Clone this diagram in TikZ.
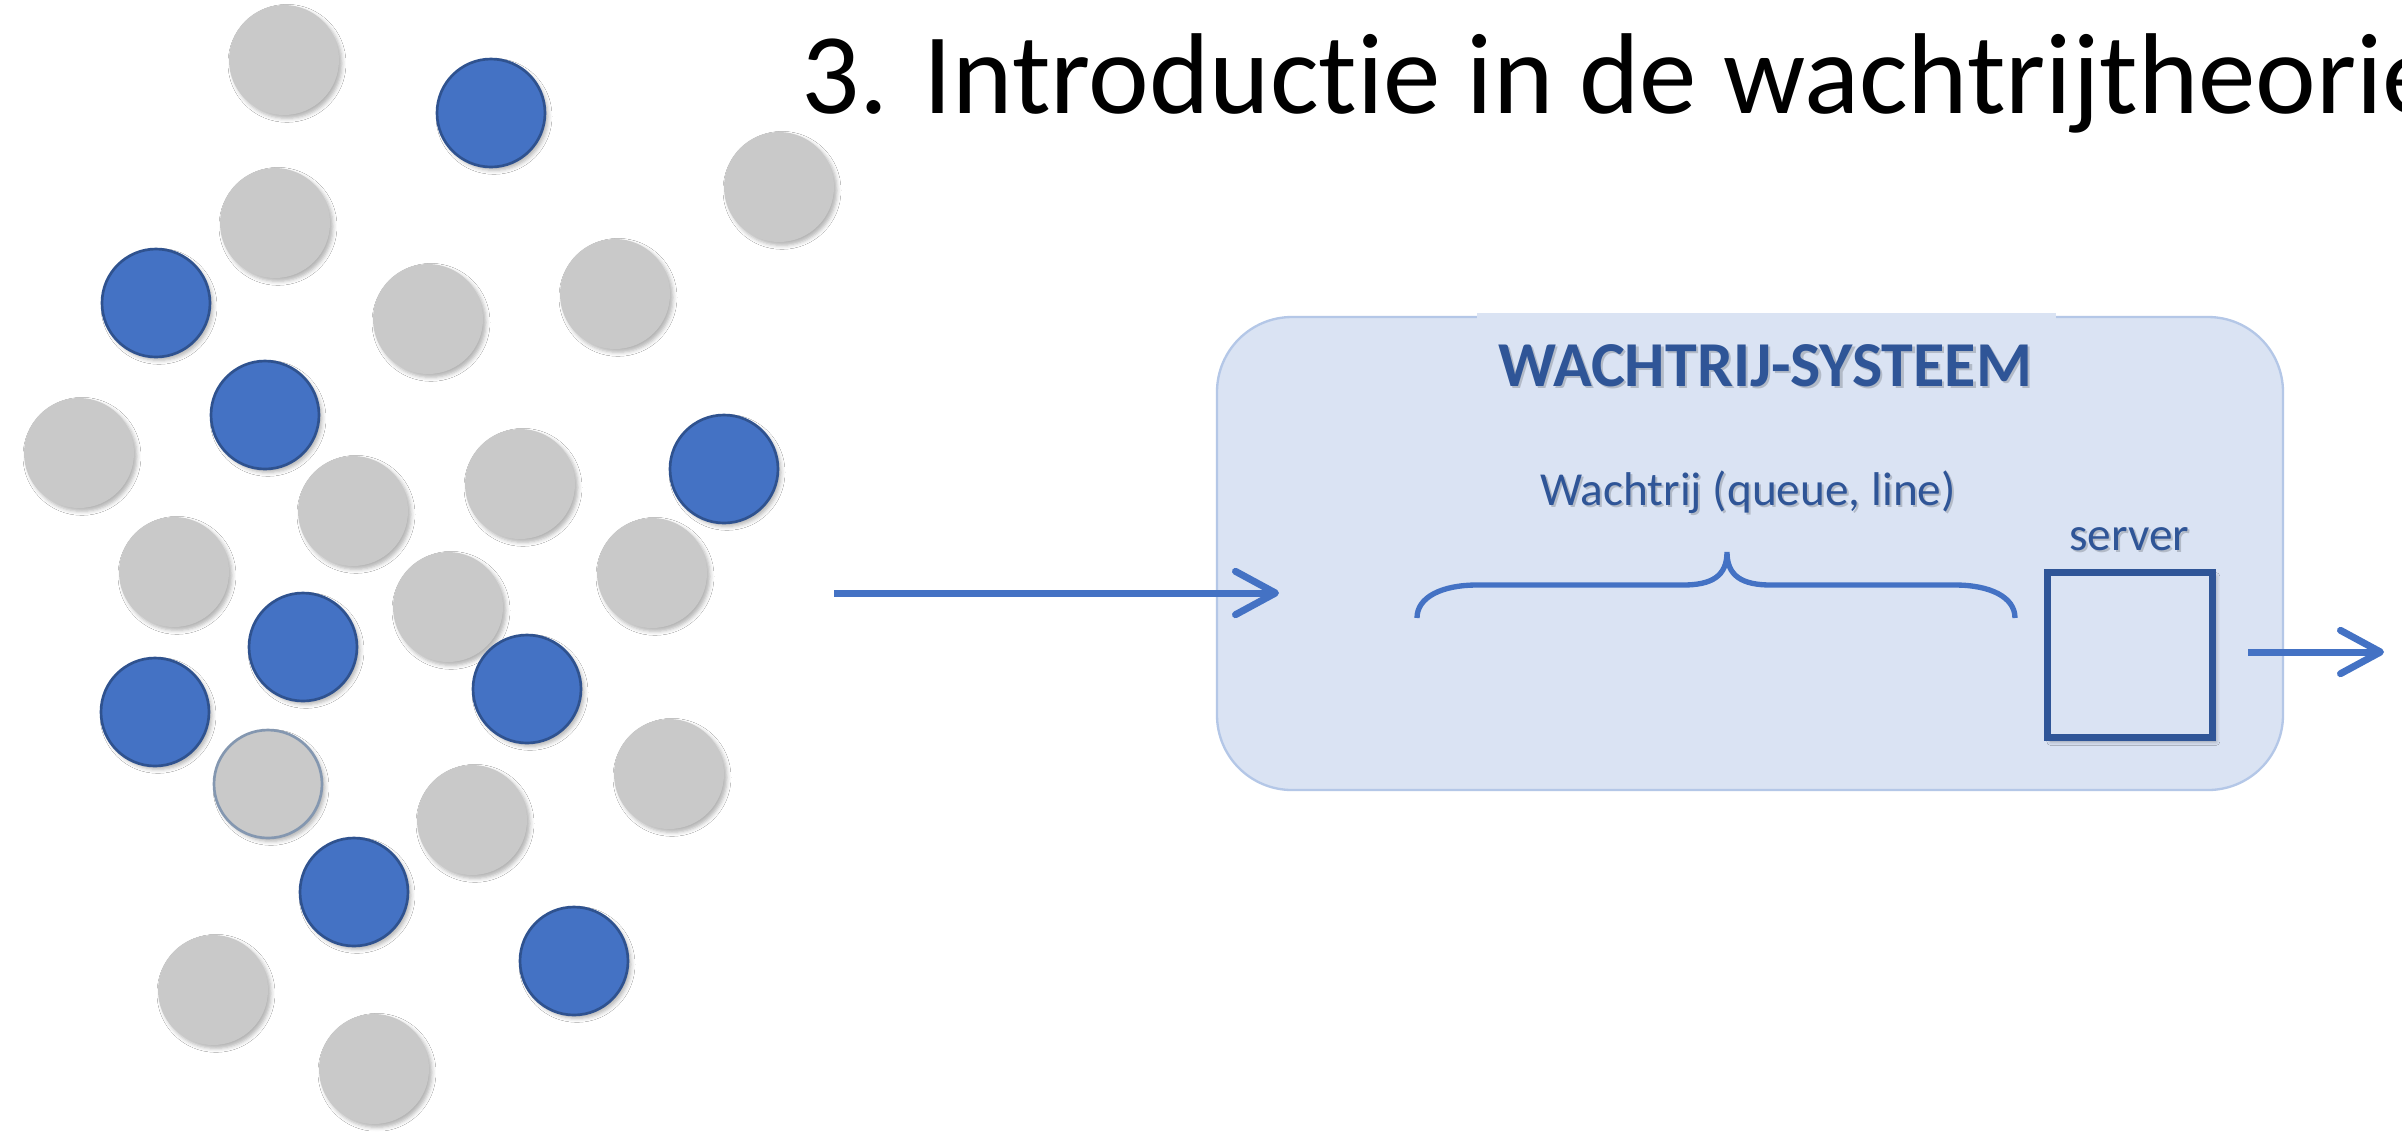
\documentclass[tikz,border=0pt]{standalone}
\usepackage{fontspec}
\setmainfont{Carlito}[Ligatures={NoCommon,NoRequired,NoContextual}]
\usetikzlibrary{arrows.meta,shadows.blur}
\definecolor{cblue}{HTML}{4472C4}
\definecolor{cblueline}{HTML}{2F528F}
\definecolor{cgray}{HTML}{C9C9C9}
\definecolor{cring}{HTML}{8497B0}
\definecolor{cfill}{HTML}{DAE3F3}
\definecolor{cborder}{HTML}{B4C7E7}
\definecolor{cdark}{HTML}{2F5597}
\begin{document}
\begin{tikzpicture}[x=0.3pt,y=-0.3pt,
  dot/.style={circle, minimum size=33pt, inner sep=0pt,
    blur shadow={shadow xshift=0.9pt, shadow yshift=-1.0pt, shadow blur radius=1.2pt, shadow opacity=30}},
  graydot/.style={dot, fill=cgray},
  bluedot/.style={dot, fill=cblue, draw=cblueline, line width=0.8pt, minimum size=32.4pt},
  grayring/.style={dot, fill=cgray, draw=cring, line width=0.8pt, minimum size=32.4pt},
  sysbox/.style={rectangle, rounded corners=22.5pt, fill=cfill, draw=cborder, line width=0.7pt,
    minimum width=319.8pt, minimum height=141.9pt, inner sep=0pt},
  srvbox/.style={rectangle, fill=cfill, draw=cdark, line width=2.1pt, minimum width=49.5pt,
    minimum height=49.5pt, inner sep=0pt,
    blur shadow={shadow xshift=1.0pt, shadow yshift=-1.2pt, shadow blur radius=1.2pt, shadow opacity=35}},
  flow/.style={draw=cblue, line width=2.1pt, -{Straight Barb[length=12pt,width=13pt,round]}},
  brace/.style={draw=cblue, line width=1.6pt},
  lbl/.style={anchor=base, inner sep=0pt, text=cdark},
  lblshadow/.style={anchor=base, inner sep=0pt, text=black, opacity=0.18}
]
\path[use as bounding box] (0,0) rectangle (2402,1131);
\clip (0,0) rectangle (2402,1131);
\fill[white] (0,0) rectangle (2402,1131);

% title
\node[anchor=base west, inner sep=0pt, font=\fontsize{34.5pt}{40pt}\selectfont] (title) at (801,113) {3. Introductie in de wachtrijtheorie};

% gray circles
\node[graydot] (g1) at (284,60) {};
\node[graydot] (g2) at (779,187) {};
\node[graydot] (g3) at (275,223) {};
\node[graydot] (g4) at (428,319) {};
\node[graydot] (g5) at (615,294) {};
\node[graydot] (g6) at (79,453) {};
\node[graydot] (g7) at (353,511) {};
\node[graydot] (g8) at (520,484) {};
\node[graydot] (g9) at (174,572) {};
\node[graydot] (g10) at (448,607) {};
\node[graydot] (g11) at (652,573) {};
\node[graydot] (g12) at (669,774) {};
\node[graydot] (g13) at (472,820) {};
\node[graydot] (g14) at (213,990) {};
\node[graydot] (g15) at (374,1069) {};
\node[grayring] (g16) at (268,784) {};

% blue circles
\node[bluedot] (b1) at (491,113) {};
\node[bluedot] (b2) at (156,303) {};
\node[bluedot] (b3) at (265,415) {};
\node[bluedot] (b4) at (724,469) {};
\node[bluedot] (b5) at (303,647) {};
\node[bluedot] (b6) at (155,712) {};
\node[bluedot] (b7) at (527,689) {};
\node[bluedot] (b8) at (354,892) {};
\node[bluedot] (b9) at (574,961) {};

% system box
\node[sysbox] (sys) at (1750,553.5) {};
\fill[cfill] (1477,313) rectangle (2056,332);

% labels with soft shadow
\node[lblshadow, font=\bfseries\fontsize{19.2pt}{22pt}\selectfont] (sysTs) at ([xshift=0.7pt,yshift=-0.7pt]1765,386) {WACHTRIJ-SYSTEEM};
\node[lbl, font=\bfseries\fontsize{19.2pt}{22pt}\selectfont] (sysT) at (1765,386) {WACHTRIJ-SYSTEEM};
\node[lblshadow, font=\fontsize{14.2pt}{17pt}\selectfont] (queueTs) at ([xshift=0.6pt,yshift=-0.6pt]1748,505) {Wachtrij (queue, line)};
\node[lbl, font=\fontsize{14.2pt}{17pt}\selectfont] (queueT) at (1748,505) {Wachtrij (queue, line)};
\node[lblshadow, font=\fontsize{14.2pt}{17pt}\selectfont] (srvTs) at ([xshift=0.6pt,yshift=-0.6pt]2129,550) {server};
\node[lbl, font=\fontsize{14.2pt}{17pt}\selectfont] (srvT) at (2129,550) {server};

% brace
\draw[brace] (1417,618) .. controls (1417,597) and (1442,585) .. (1477,585)
  -- (1683,585) .. controls (1712,585) and (1727,576) .. (1727,552)
  .. controls (1727,576) and (1742,585) .. (1771,585)
  -- (1955,585) .. controls (1990,585) and (2015,597) .. (2015,618);

% server
\node[srvbox] (srv) at (2130,655) {};

% arrows
\coordinate (inA) at (834,593);
\coordinate (inB) at (1279,593);
\draw[flow] (inA) -- (inB);
\coordinate (outA) at (2248,652);
\coordinate (outB) at (2384,652);
\draw[flow] (outA) -- (outB);
\end{tikzpicture}
\end{document}
